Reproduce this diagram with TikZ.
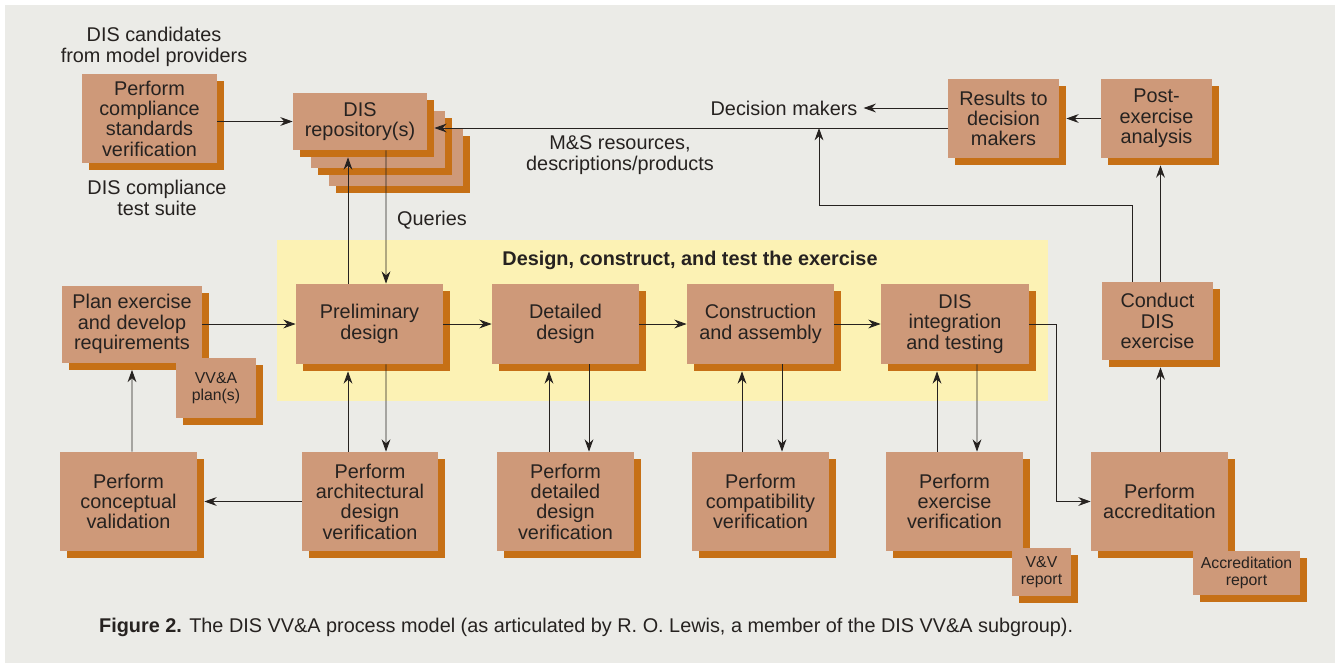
\documentclass[tikz,border=0pt]{standalone}
\usepackage{fontspec}
\setmainfont{Liberation Sans}
\usetikzlibrary{arrows.meta,calc,shadows}
\definecolor{boxface}{RGB}{206,153,121}
\definecolor{boxshade}{RGB}{198,112,22}
\definecolor{panel}{RGB}{235,235,231}
\definecolor{band}{RGB}{252,242,180}
\definecolor{ink}{RGB}{38,34,32}
\newcommand{\bodyfont}{\fontsize{11.3}{11.6}\selectfont}
\newcommand{\notefont}{\fontsize{9}{9.4}\selectfont}
\tikzset{
  pbox/.style 2 args={fill=boxface, text=ink, align=center, inner sep=0pt,
    font=\bodyfont, minimum width=#1*0.02cm, minimum height=#2*0.02cm,
    drop shadow={shadow xshift=4pt, shadow yshift=-4pt, fill=boxshade, opacity=1}},
  nbox/.style 2 args={pbox={#1}{#2}, font=\notefont},
  lbl/.style={text=ink, align=center, font=\bodyfont},
  arr/.style={draw=ink, line width=0.5pt, -{Stealth[length=7pt,width=5pt]}},
}
\begin{document}
\begin{tikzpicture}[x=0.02cm, y=-0.02cm]
		\useasboundingbox (0,0) rectangle (1340,666);
		\fill[white] (0,0) rectangle (1340,666);
		\fill[panel] (5,5) rectangle (1335,663);
		\fill[band] (277,240) rectangle (1048,401);
		\node[font=\bodyfont\bfseries, text=ink] (ttl) at (690,260) {Design, construct, and test the exercise};
		
		% top row
		\node[lbl] (cand) at (154,47) {DIS candidates\\from model providers};
		\node[pbox={135}{89}] (comp) at (149.5,118.5) {Perform\\compliance\\standards\\verification};
		\node[lbl] (suite) at (157,198) {DIS compliance\\test suite};
		\node[pbox={134}{57}] (rep3) at (396,157.5) {};
		\node[pbox={134}{57}] (rep2) at (378,139.5) {};
		\node[pbox={134}{57}] (rep) at (360,121.5) {DIS\\repository(s)};
		\node[lbl] (qry) at (432,220) {Queries};
		\node[lbl] (ms) at (620,155) {M\&S resources,\\descriptions/products};
		\node[lbl] (dm) at (784,108) {Decision makers};
		\node[pbox={111}{79}] (res) at (1003.5,118.5) {Results to\\decision\\makers};
		\node[pbox={111}{79}] (post) at (1156.5,118.5) {Post-\\exercise\\analysis};
		\coordinate (msjoin) at (819,128);
		
		% middle row
		\node[pbox={140}{77}] (plan) at (132,324) {Plan exercise\\and develop\\requirements};
		\node[nbox={80}{60}] (vva) at (216,388) {VV\&A\\plan(s)};
		\node[pbox={147}{80}] (prelim) at (369.5,324) {Preliminary\\design};
		\node[pbox={147}{80}] (det) at (565.5,324) {Detailed\\design};
		\node[pbox={147}{80}] (cons) at (760.5,324) {Construction\\and assembly};
		\node[pbox={148}{80}] (integ) at (955,324) {DIS\\integration\\and testing};
		\node[pbox={111}{78}] (cond) at (1157.5,321) {Conduct\\DIS\\exercise};
		
		% bottom row
		\node[pbox={137}{99}] (concept) at (128.5,501.5) {Perform\\conceptual\\validation};
		\node[pbox={136}{99}] (arch) at (370,501.5) {Perform\\architectural\\design\\verification};
		\node[pbox={137}{99}] (detv) at (565.5,501.5) {Perform\\detailed\\design\\verification};
		\node[pbox={137}{99}] (compat) at (760.5,501.5) {Perform\\compatibility\\verification};
		\node[pbox={137}{99}] (exv) at (954.5,501.5) {Perform\\exercise\\verification};
		\node[nbox={59}{48}] (vvrep) at (1041.5,572) {V\&V\\report};
		\node[pbox={137}{99}] (accr) at (1159.5,501.5) {Perform\\accreditation};
		\node[nbox={107}{44}] (accrep) at (1246.5,573) {Accreditation\\report};
		
		\node[lbl, anchor=west] (cap) at (93,627) {\textbf{Figure 2.} The DIS VV\&A process model (as articulated by R. O. Lewis, a member of the DIS VV\&A subgroup).};
		
		% connectors
		\draw[arr] (comp.east |- rep.west) -- (rep.west);
		\draw[arr] ($(prelim.north)+(-21.5,0)$) -- ($(rep.south)+(-12,7)$);
		\draw[arr] ($(rep.south)+(26,0)$) -- ($(prelim.north)+(16.5,0)$);
		\draw[arr] ($(res.west)+(0,9.5)$) -- ($(rep.east)+(7,6.5)$);
		\draw[arr] ($(res.west)+(0,-10.5)$) -- (dm.east);
		\draw[arr] (post.west) -- ($(res.east)+(7,0)$);
		\draw[arr] ($(cond.north)+(-25.5,0)$) -- ++(0,-76) -| (msjoin);
		\draw[arr] ($(cond.north)+(3,0)$) -- ($(post.south)+(4,7)$);
		
		\draw[arr] (plan.east) -- (prelim.west);
		\draw[arr] (prelim.east) -- (det.west);
		\draw[arr] (det.east) -- (cons.west);
		\draw[arr] (cons.east) -- (integ.west);
		\draw[arr] (integ.east) -| ($(accr.west)+(-34,0)$) -- (accr.west);
		\draw[arr] ($(accr.north)+(1,0)$) -- ($(cond.south)+(3,7)$);
		
		\draw[arr] ($(concept.north)+(3.5,0)$) -- ($(plan.south)+(0,7)$);
		\draw[arr] (arch.west) -- ($(concept.east)+(7,0)$);
		\draw[arr] ($(arch.north)+(-22,0)$) -- ($(prelim.south)+(-21.5,7)$);
		\draw[arr] ($(prelim.south)+(16.5,0)$) -- ($(arch.north)+(16,0)$);
		\draw[arr] ($(detv.north)+(-16.5,0)$) -- ($(det.south)+(-16.5,7)$);
		\draw[arr] ($(det.south)+(23.5,0)$) -- ($(detv.north)+(23.5,0)$);
		\draw[arr] ($(compat.north)+(-18.5,0)$) -- ($(cons.south)+(-18.5,7)$);
		\draw[arr] ($(cons.south)+(21.5,0)$) -- ($(compat.north)+(21.5,0)$);
		\draw[arr] ($(exv.north)+(-17.5,0)$) -- ($(integ.south)+(-18,7)$);
		\draw[arr] ($(integ.south)+(22,0)$) -- ($(exv.north)+(22.5,0)$);
		
\end{tikzpicture}
\end{document}
